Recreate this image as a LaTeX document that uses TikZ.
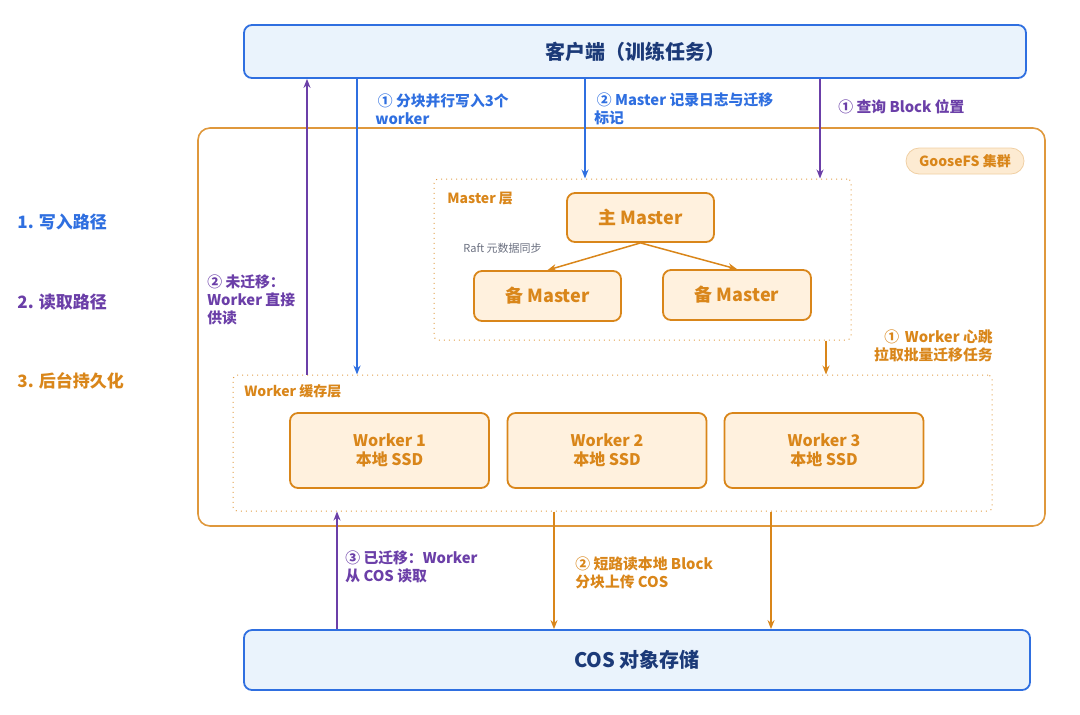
\documentclass[tikz,border=0pt]{standalone}
\usepackage{fontspec}
\setmainfont{Noto Sans CJK SC}
\usetikzlibrary{positioning,arrows.meta,calc}
\definecolor{wblue}{HTML}{2F6FE0}
\definecolor{rpurple}{HTML}{6B3FA8}
\definecolor{porange}{HTML}{D9861A}
\definecolor{navy}{HTML}{1C3A78}
\definecolor{boxblue}{HTML}{EAF3FC}
\definecolor{boxorange}{HTML}{FFF1DE}
\definecolor{pillorange}{HTML}{FDEBD2}
\definecolor{raftgray}{HTML}{6B7080}

\begin{document}
\begin{tikzpicture}[x=0.5pt, y=-0.5pt,
  endbox/.style={draw=wblue, line width=0.9pt, fill=boxblue, rounded corners=4pt,
    font=\bfseries\fontsize{10}{12}\selectfont, text=navy},
  nodebox/.style={draw=porange, line width=0.9pt, fill=boxorange, rounded corners=4pt,
    font=\bfseries\fontsize{9}{11}\selectfont, text=porange, align=center},
  layerbox/.style={draw=porange!80, dotted, line width=0.5pt, rounded corners=2pt},
  layerlabel/.style={font=\bfseries\fontsize{7}{8.5}\selectfont, text=porange, anchor=west, inner sep=0pt},
  steplabel/.style={font=\bfseries\fontsize{7.4}{9}\selectfont, align=left, inner sep=0pt},
  pathlabel/.style={font=\bfseries\fontsize{8.5}{10}\selectfont, anchor=west, inner sep=0pt},
  flow/.style={line width=0.75pt, -{Stealth[length=4.5pt, width=3.5pt]}}
]
\useasboundingbox (0,0) rectangle (1080,714);

% Client and COS
\node[endbox, minimum width=391pt, minimum height=26.5pt] (client) at (635,51.5) {客户端（训练任务）};
\node[endbox, minimum width=393pt, minimum height=30pt] (cos) at (637,660) {COS 对象存储};

% GooseFS cluster
\node[draw=porange!85, line width=0.8pt, rounded corners=6pt, minimum width=423.5pt, minimum height=199pt] (cluster) at (621.5,327) {};
\node[draw=porange!40, fill=pillorange, rounded corners=6.5pt, minimum width=59pt, minimum height=13pt,
  font=\bfseries\fontsize{7}{8.5}\selectfont, text=porange, inner sep=0pt] (gfs) at (965,161) {GooseFS 集群};

% Master layer
\node[layerbox, minimum width=208.5pt, minimum height=80.5pt] (mlayer) at (642.5,259.5) {};
\node[layerlabel] (mlabel) at (447,199) {Master 层};
\node[nodebox, minimum width=73.5pt, minimum height=24.5pt] (master) at (640.5,217.5) {主 Master};
\node[nodebox, minimum width=73.5pt, minimum height=25pt] (standbyA) at (547.5,296) {备 Master};
\node[nodebox, minimum width=74pt, minimum height=25pt] (standbyB) at (737,295) {备 Master};
\node[font=\fontsize{5.5}{7}\selectfont, text=raftgray, anchor=west, inner sep=0pt] (raft) at (463,248) {Raft 元数据同步};
\draw[flow, draw=porange] (master.south) -- (standbyA.north);
\draw[flow, draw=porange] (master.south) -- (standbyB.north);

% Worker layer
\node[layerbox, minimum width=379.5pt, minimum height=68pt] (wlayer) at (612.5,443) {};
\node[layerlabel] (wlabel) at (244,391) {Worker 缓存层};
\node[nodebox, font=\bfseries\fontsize{8}{9.5}\selectfont, minimum width=99.5pt, minimum height=37.5pt] (worker1) at (389.5,450.5) {Worker 1\\本地 SSD};
\node[nodebox, font=\bfseries\fontsize{8}{9.5}\selectfont, minimum width=99.5pt, minimum height=37.5pt] (worker2) at (607,450.5) {Worker 2\\本地 SSD};
\node[nodebox, font=\bfseries\fontsize{8}{9.5}\selectfont, minimum width=99.5pt, minimum height=37.5pt] (worker3) at (824,450.5) {Worker 3\\本地 SSD};

% Legend
\node[pathlabel, text=wblue] (legw) at (17,222) {1. 写入路径};
\node[pathlabel, text=rpurple] (legr) at (17,302) {2. 读取路径};
\node[pathlabel, text=porange] (legp) at (17,381) {3. 后台持久化};

% Arrow columns
\coordinate (xr) at (307,0);
\coordinate (xw) at (357,0);
\coordinate (xm) at (585,0);
\coordinate (xq) at (820,0);
\coordinate (xh) at (826,0);
\coordinate (xc) at (337,0);
\coordinate (xu) at (554,0);
\coordinate (xv) at (771,0);

% Write path
\draw[flow, draw=wblue] (client.south -| xw) -- (wlayer.north -| xw);
\node[steplabel, text=wblue, anchor=north west] (lw1) at (375,93) {\,① 分块并行写入3个\\worker};
\draw[flow, draw=wblue] (client.south -| xm) -- (mlayer.north -| xm);
\node[steplabel, text=wblue, anchor=north west] (lw2) at (594,92) {\,② Master 记录日志与迁移\\标记};

% Read path
\draw[flow, draw=rpurple] (client.south -| xq) -- (mlayer.north -| xq);
\node[steplabel, text=rpurple, anchor=west] (lr1) at (838,107) {① 查询 Block 位置};
\draw[flow, draw=rpurple] (wlayer.north -| xr) -- (client.south -| xr);
\node[steplabel, text=rpurple, anchor=north west] (lr2) at (207,274) {② 未迁移：\\Worker 直接\\供读};
\draw[flow, draw=rpurple] (cos.north -| xc) -- (wlayer.south -| xc);
\node[steplabel, text=rpurple, anchor=north west] (lr3) at (345,550) {③ 已迁移：Worker\\从 COS 读取};

% Persist path
\draw[flow, draw=porange] (mlayer.south -| xh) -- (wlayer.north -| xh);
\node[steplabel, text=porange, align=right, anchor=north east] (lp1) at (993,329) {①\, Worker 心跳\\拉取批量迁移任务};
\draw[flow, draw=porange] (wlayer.south -| xu) -- (cos.north -| xu);
\draw[flow, draw=porange] (wlayer.south -| xv) -- (cos.north -| xv);
\node[steplabel, text=porange, anchor=north west] (lp2) at (575,556) {② 短路读本地 Block\\分块上传 COS};
\end{tikzpicture}
\end{document}
